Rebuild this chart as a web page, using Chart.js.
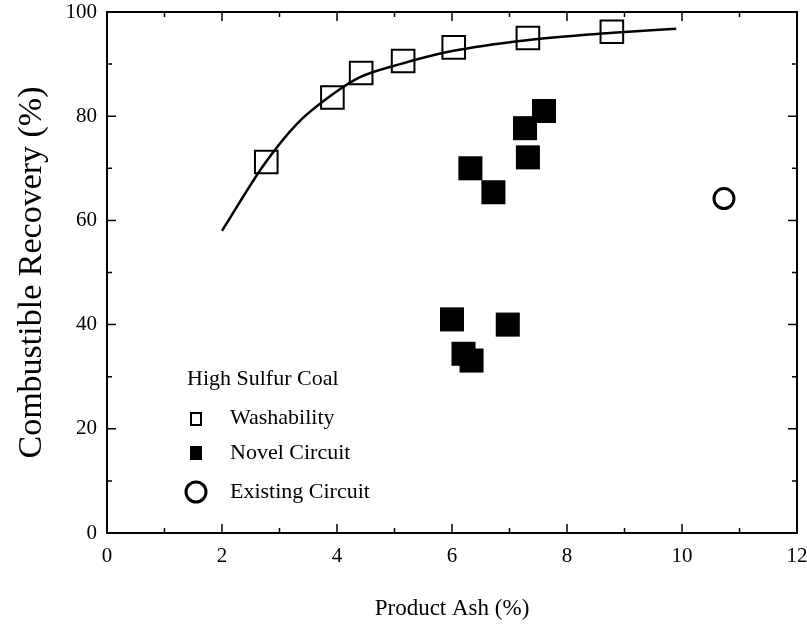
<!DOCTYPE html>
<html>
<head>
<meta charset="utf-8">
<script src="https://cdn.jsdelivr.net/npm/chart.js@4/dist/chart.umd.min.js"></script>
<style>
html, body { margin: 0; padding: 0; background: #fff; }
#wrap { width: 807px; height: 632px; }
</style>
</head>
<body>
<div id="wrap"><canvas id="chart"></canvas></div>
<script>
// washability fitted curve
const curveAsh = [2.0, 2.75, 3.3, 3.9, 4.4, 5.1, 6.0, 7.3, 8.8, 9.9];
const curveRec = [58, 71, 78.5, 84, 87.5, 90, 92.5, 94.6, 96.0, 96.8];

// washability points (open squares)
const washAsh = [2.77, 3.92, 4.42, 5.15, 6.03, 7.32, 8.78];
const washRec = [71.2, 83.6, 88.3, 90.6, 93.2, 95.0, 96.2];

// novel circuit (filled squares)
const novelAsh = [6.32, 6.72, 7.27, 7.6, 7.32, 6.0, 6.97, 6.2, 6.34];
const novelRec = [70.0, 65.4, 77.7, 81.0, 72.1, 41.0, 40.0, 34.4, 33.1];

// existing circuit (open circle)
const existAsh = [10.73];
const existRec = [64.2];

const xTicks = [0, 2, 4, 6, 8, 10, 12];
const yTicks = [0, 20, 40, 60, 80, 100];

const toPts = (xs, ys) => xs.map((v, i) => ({ x: v, y: ys[i] }));
const serif = '"Liberation Serif", "DejaVu Serif", serif';

const framePlugin = {
    id: 'frame',
    afterDraw(chart) {
        const { ctx, chartArea: a, scales: { x, y } } = chart;
        ctx.save();
        ctx.strokeStyle = '#000';
        ctx.lineWidth = 2;
        ctx.strokeRect(a.left, a.top, a.right - a.left, a.bottom - a.top);

        // inward tick marks on all four sides
        ctx.lineWidth = 1.5;
        ctx.beginPath();
        for (let v = 0; v <= 12; v++) {
            const px = x.getPixelForValue(v);
            const len = v % 2 === 0 ? 9 : 5;
            ctx.moveTo(px, a.bottom); ctx.lineTo(px, a.bottom - len);
            ctx.moveTo(px, a.top); ctx.lineTo(px, a.top + len);
        }
        for (let v = 0; v <= 100; v += 10) {
            const py = y.getPixelForValue(v);
            const len = v % 20 === 0 ? 9 : 5;
            ctx.moveTo(a.left, py); ctx.lineTo(a.left + len, py);
            ctx.moveTo(a.right, py); ctx.lineTo(a.right - len, py);
        }
        ctx.stroke();

        // legend inside plot
        ctx.fillStyle = '#000';
        ctx.font = '22px ' + serif;
        ctx.textBaseline = 'middle';
        ctx.textAlign = 'left';
        ctx.fillText('High Sulfur Coal', 187, 379);
        ctx.fillText('Washability', 230, 418);
        ctx.fillText('Novel Circuit', 230, 453);
        ctx.fillText('Existing Circuit', 230, 492);

        ctx.lineWidth = 2;
        ctx.strokeRect(191, 413, 10, 12);
        ctx.fillRect(190, 446, 12, 14);
        ctx.lineWidth = 3;
        ctx.beginPath();
        ctx.arc(196, 492, 10, 0, Math.PI * 2);
        ctx.stroke();
        ctx.restore();
    }
};

new Chart(document.getElementById('chart'), {
    type: 'scatter',
    data: {
        datasets: [
            {
                label: 'Curve',
                data: toPts(curveAsh, curveRec),
                showLine: true,
                borderColor: '#000',
                borderWidth: 2.5,
                pointRadius: 0,
                cubicInterpolationMode: 'monotone'
            },
            {
                label: 'Washability',
                data: toPts(washAsh, washRec),
                pointStyle: 'rect',
                pointRadius: 16,
                borderColor: '#000',
                borderWidth: 2,
                backgroundColor: 'rgba(0,0,0,0)'
            },
            {
                label: 'Novel Circuit',
                data: toPts(novelAsh, novelRec),
                pointStyle: 'rect',
                pointRadius: 17,
                borderColor: '#000',
                borderWidth: 0,
                backgroundColor: '#000'
            },
            {
                label: 'Existing Circuit',
                data: toPts(existAsh, existRec),
                pointStyle: 'circle',
                pointRadius: 10,
                borderColor: '#000',
                borderWidth: 3,
                backgroundColor: 'rgba(0,0,0,0)'
            }
        ]
    },
    options: {
        responsive: true,
        maintainAspectRatio: false,
        animation: false,
        layout: { autoPadding: false, padding: { top: 12, right: 10, left: 0, bottom: 0 } },
        plugins: {
            legend: { display: false },
            tooltip: { enabled: false }
        },
        scales: {
            x: {
                type: 'linear',
                min: 0, max: 12,
                afterBuildTicks: s => { s.ticks = xTicks.map(v => ({ value: v })); },
                afterFit: s => { s.height = 99; s.paddingLeft = 0; s.paddingRight = 0; },
                grid: { display: false, drawTicks: false },
                border: { display: false },
                ticks: { color: '#000', padding: 11, font: { family: serif, size: 21 }, maxRotation: 0 },
                title: { display: true, text: 'Product Ash (%)', color: '#000', font: { family: serif, size: 23 }, padding: { top: 0, bottom: 9 } }
            },
            y: {
                type: 'linear',
                min: 0, max: 100,
                afterBuildTicks: s => { s.ticks = yTicks.map(v => ({ value: v })); },
                afterFit: s => { s.width = 107; s.paddingTop = 0; s.paddingBottom = 0; },
                grid: { display: false, drawTicks: false },
                border: { display: false },
                ticks: { color: '#000', padding: 10, font: { family: serif, size: 21 } },
                title: { display: true, text: 'Combustible Recovery (%)', color: '#000', font: { family: serif, size: 34 }, padding: { top: 12, bottom: 0 } }
            }
        }
    },
    plugins: [framePlugin]
});
</script>
</body>
</html>
